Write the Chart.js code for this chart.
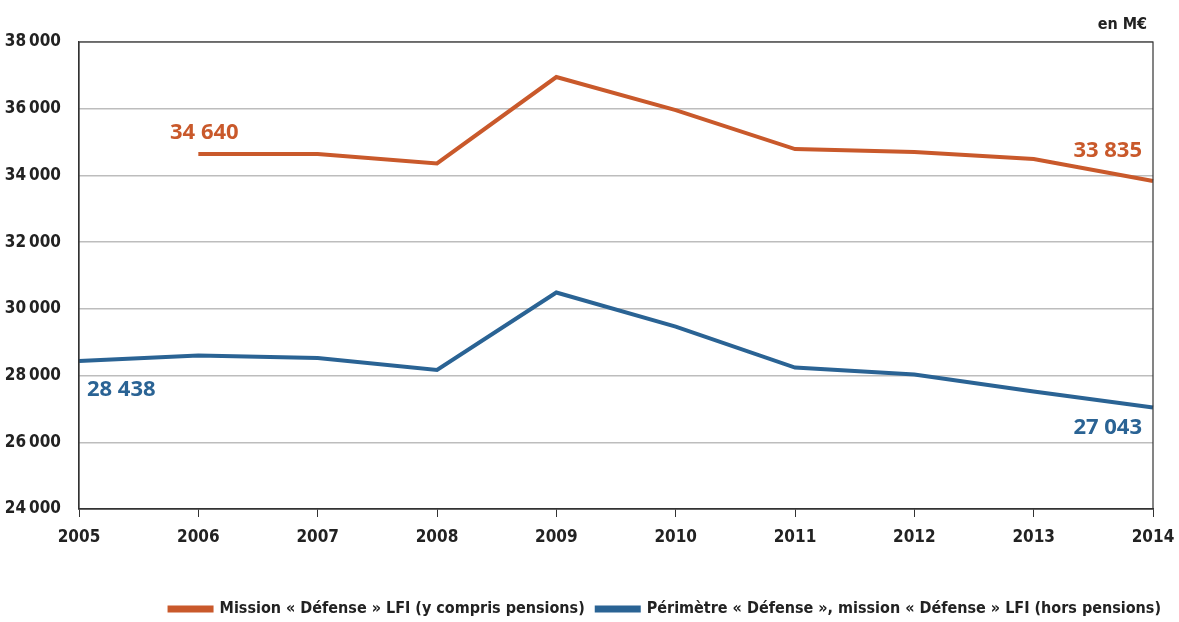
<!DOCTYPE html>
<html>
<head>
<meta charset="utf-8">
<script src="https://cdn.jsdelivr.net/npm/chart.js@4/dist/chart.umd.min.js"></script>
<style>
  html, body { margin: 0; padding: 0; background: #fff; }
  #wrap { width: 1179px; height: 622px; position: relative; }
</style>
</head>
<body>
<div id="wrap"><canvas id="chart"></canvas></div>
<script>
// années et valeurs (en M€)
const annees = ['2005', '2006', '2007', '2008', '2009', '2010', '2011', '2012', '2013', '2014'];
const missionDefense = [null, 34640, 34640, 34360, 36950, 35960, 34790, 34700, 34490, 33835];
const perimetreDefense = [28438, 28600, 28530, 28170, 30490, 29470, 28240, 28030, 27520, 27043];
const yTicks = [24000, 26000, 28000, 30000, 32000, 34000, 36000, 38000];

const ORANGE = '#c9592b';
const BLEU = '#2a6394';
const CONDENSED = '"DejaVu Sans Condensed", "Liberation Sans Narrow", sans-serif';

function formatNombre(v, sep) {
    // 38000 -> "38 000"
    return String(v).replace(/\B(?=(\d{3})+(?!\d))/g, sep);
}

// étiquettes des valeurs de début et de fin + cadre + "en M€"
const etiquettesPlugin = {
    id: 'etiquettes',
    afterDatasetsDraw(chart) {
        const ctx = chart.ctx;
        const x = chart.scales.x;
        const y = chart.scales.y;
        const area = chart.chartArea;

        ctx.save();
        // cadre du graphique (haut et droite)
        ctx.strokeStyle = '#333';
        ctx.lineWidth = 1.2;
        ctx.strokeRect(area.left, area.top, area.right - area.left, area.bottom - area.top);

        ctx.font = '700 22px "Open Sans", sans-serif';
        ctx.textBaseline = 'middle';

        // Mission Défense
        ctx.fillStyle = ORANGE;
        ctx.textAlign = 'center';
        ctx.fillText(formatNombre(missionDefense[1], ' '), x.getPixelForValue(1) + 6, y.getPixelForValue(missionDefense[1]) - 21);
        ctx.textAlign = 'right';
        ctx.fillText(formatNombre(missionDefense[9], ' '), x.getPixelForValue(9) - 11, y.getPixelForValue(missionDefense[9]) - 30);

        // Périmètre Défense
        ctx.fillStyle = BLEU;
        ctx.textAlign = 'left';
        ctx.fillText(formatNombre(perimetreDefense[0], ' '), x.getPixelForValue(0) + 8, y.getPixelForValue(perimetreDefense[0]) + 29);
        ctx.textAlign = 'right';
        ctx.fillText(formatNombre(perimetreDefense[9], ' '), x.getPixelForValue(9) - 11, y.getPixelForValue(perimetreDefense[9]) + 20);

        // unité
        ctx.fillStyle = '#222';
        ctx.font = '700 16px ' + CONDENSED;
        ctx.textAlign = 'right';
        ctx.fillText('en M€', area.right - 6, 25);
        ctx.restore();
    }
};

new Chart(document.getElementById('chart'), {
    type: 'line',
    data: {
        labels: annees,
        datasets: [
            {
                label: 'Mission « Défense » LFI (y compris pensions)',
                data: missionDefense,
                borderColor: ORANGE,
                backgroundColor: ORANGE,
                borderWidth: 4,
                pointRadius: 0,
                tension: 0
            },
            {
                label: 'Périmètre « Défense », mission « Défense » LFI (hors pensions)',
                data: perimetreDefense,
                borderColor: BLEU,
                backgroundColor: BLEU,
                borderWidth: 4,
                pointRadius: 0,
                tension: 0
            }
        ]
    },
    options: {
        responsive: true,
        maintainAspectRatio: false,
        animation: false,
        layout: { padding: { left: 0, right: 6, top: 42, bottom: -5 } },
        plugins: {
            legend: {
                position: 'bottom',
                align: 'end',
                labels: {
                    color: '#222',
                    boxWidth: 42,
                    boxHeight: 3,
                    padding: 12,
                    font: { family: CONDENSED, size: 16, weight: '700' }
                }
            },
            tooltip: { enabled: false }
        },
        scales: {
            x: {
                offset: false,
                grid: {
                    drawOnChartArea: false,
                    drawTicks: true,
                    tickLength: 8,
                    color: '#333'
                },
                border: { color: '#333', width: 1.2 },
                ticks: {
                    color: '#222',
                    padding: 10,
                    maxRotation: 0,
                    font: { family: CONDENSED, size: 17, weight: '700' }
                },
                afterFit(scale) {
                    scale.height = 80;
                    scale.paddingLeft = 0;
                    scale.paddingRight = 26;
                }
            },
            y: {
                min: 24000,
                max: 38000,
                afterBuildTicks(scale) { scale.ticks = yTicks.map(v => ({ value: v })); },
                grid: {
                    color: '#bdbdbd',
                    lineWidth: 1.5,
                    drawTicks: false
                },
                border: { color: '#333', width: 1.2 },
                ticks: {
                    color: '#222',
                    padding: 18,
                    font: { family: CONDENSED, size: 17, weight: '700' },
                    callback: v => formatNombre(v, '\u2009')
                },
                afterFit(scale) { scale.width = 79; }
            }
        }
    },
    plugins: [etiquettesPlugin]
});
</script>
</body>
</html>
